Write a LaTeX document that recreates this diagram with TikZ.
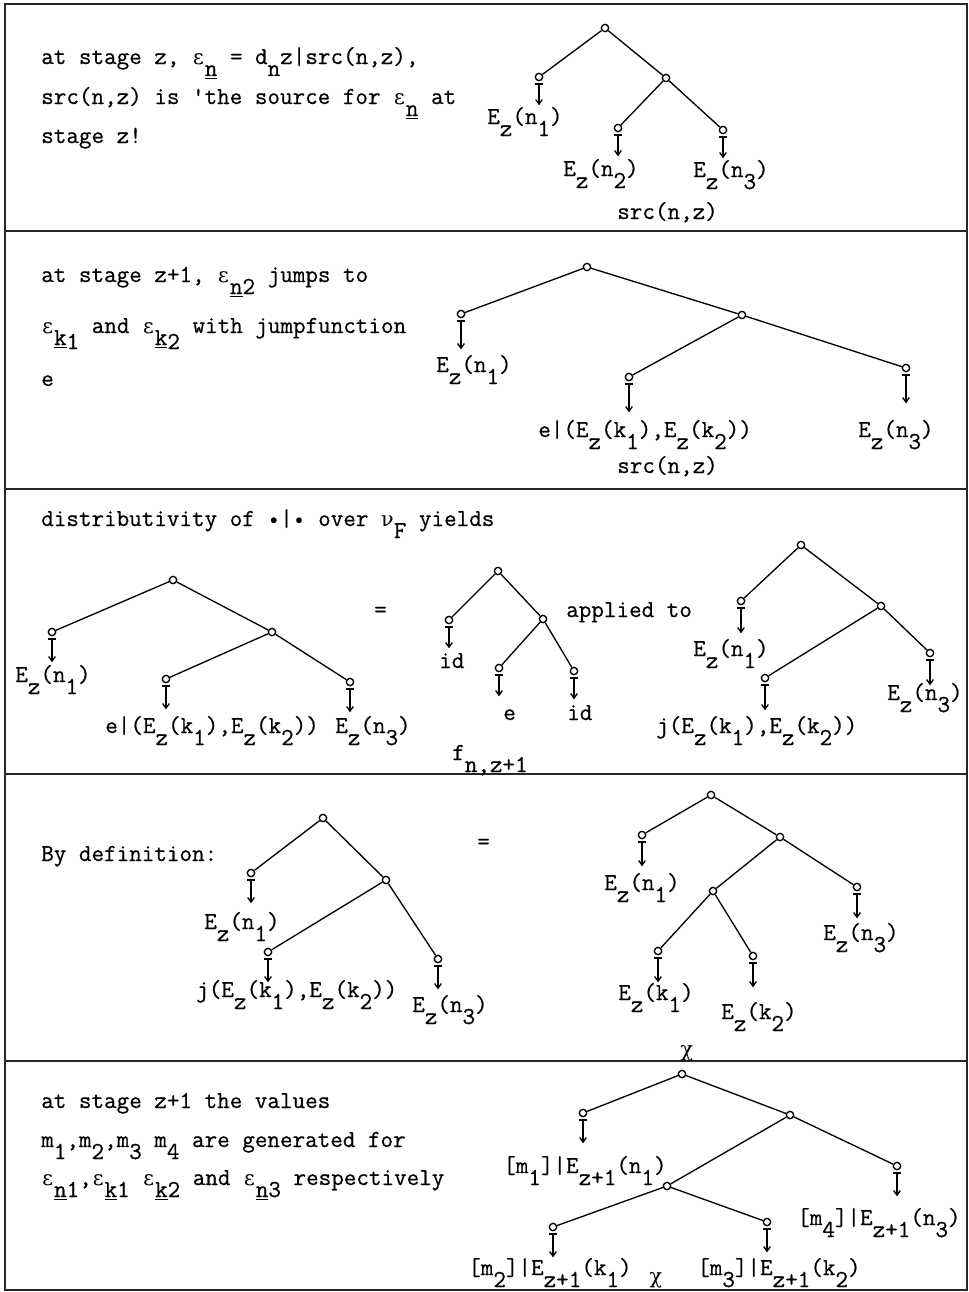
\documentclass[tikz,border=0pt]{standalone}
\usepackage{fontspec}
\setmonofont{Latin Modern Mono}[FakeBold=0.6]
\newfontfamily\grk{DejaVu Serif}[Scale=0.85]
\usetikzlibrary{arrows.meta}
\newcommand{\lw}[1]{\raisebox{-9pt}{#1}}
\newcommand{\ep}{\makebox[0.525em]{\grk ε}}
\newcommand{\ul}[1]{\underline{#1}}
\newcommand{\cel}[1]{\makebox[0.525em]{#1}}
\newcommand{\dotc}{\cel{\raisebox{1.2pt}{\scalebox{0.65}{$\bullet$}}}}
\begin{document}
\begin{tikzpicture}[x=0.75pt,y=-0.75pt,
  font=\fontsize{18.3}{22}\selectfont\ttfamily,
  vtx/.style={circle,draw,inner sep=0pt,minimum size=5.5pt,line width=1pt,fill=white},
  edge/.style={line width=1pt},
  leafarr/.style={line width=1pt,{Bar[width=5.5pt,line width=1pt]}-{Straight Barb[length=3.5pt,width=5pt]}},
  txt/.style={anchor=base west,inner sep=0pt},
  frame/.style={line width=1.5pt,draw=black!85}]
\useasboundingbox (0,0) rectangle (969,1292);
% frame
\draw[frame] (5,4) rectangle (967,1290);
\draw[frame] (5,231) -- (967,231);
\draw[frame] (5,489) -- (967,489);
\draw[frame] (5,774) -- (967,774);
\draw[frame] (5,1061) -- (967,1061);

% ---------- panel 1
\node[txt] (p1a) at (41,64) {at stage z, \ep\lw{\ul{n}} = d\lw{n}z|src(n,z),};
\node[txt] (p1b) at (41,104) {src(n,z) is 'the source for \ep\lw{\ul{n}} at};
\node[txt] (p1c) at (41,143) {stage z!};
\node[vtx] (a0) at (605,28) {};
\node[vtx] (a1) at (539,77) {};
\node[vtx] (a2) at (666,78) {};
\node[vtx] (a3) at (618,128) {};
\node[vtx] (a4) at (723,130) {};
\draw[edge] (a0)--(a1) (a0)--(a2) (a2)--(a3) (a2)--(a4);
\foreach \n in {a1,a3,a4} \draw[leafarr] ([yshift=-1.5pt]\n.south) -- ++(0,22);
\node[txt] (a1l) at (487,124) {E\lw{z}(n\lw{1})};
\node[txt] (a3l) at (563,176) {E\lw{z}(n\lw{2})};
\node[txt] (a4l) at (693,177) {E\lw{z}(n\lw{3})};
\node[txt] (a5l) at (617,219) {src(n,z)};

% ---------- panel 2
\node[txt] (p2a) at (41,282) {at stage z+1, \ep\lw{\ul{n}2} jumps to};
\node[txt] (p2b) at (41,333) {\ep\lw{\ul{k}\raisebox{-3pt}{1}} and \ep\lw{\ul{k}\raisebox{-3pt}{2}} with jumpfunction};
\node[txt] (p2c) at (41,386) {e};
\node[vtx] (b0) at (587,267) {};
\node[vtx] (b1) at (461,314) {};
\node[vtx] (b2) at (742,315) {};
\node[vtx] (b3) at (629,377) {};
\node[vtx] (b4) at (906,368) {};
\draw[edge] (b0)--(b1) (b0)--(b2) (b2)--(b3) (b2)--(b4);
\foreach \n in {b1,b3,b4} \draw[leafarr] ([yshift=-1.5pt]\n.south) -- ++(0,29);
\node[txt] (b1l) at (436,372) {E\lw{z}(n\lw{1})};
\node[txt] (b3l) at (538,437) {e|(E\lw{z}(k\lw{1}),E\lw{z}(k\lw{2}))};
\node[txt] (b4l) at (858,437) {E\lw{z}(n\lw{3})};
\node[txt] (b5l) at (617,473) {src(n,z)};

% ---------- panel 3
\node[txt] (p3a) at (41,526) {distributivity of \dotc|\dotc{} over \cel{\grk ν}\lw{F} yields};
\node[vtx] (c0) at (173,580) {};
\node[vtx] (c1) at (52,632) {};
\node[vtx] (c2) at (272,632) {};
\node[vtx] (c3) at (166,679) {};
\node[vtx] (c4) at (350,682) {};
\draw[edge] (c0)--(c1) (c0)--(c2) (c2)--(c3) (c2)--(c4);
\foreach \n in {c1,c3,c4} \draw[leafarr] ([yshift=-1.5pt]\n.south) -- ++(0,24);
\node[txt] (c1l) at (15,682) {E\lw{z}(n\lw{1})};
\node[txt] (c3l) at (105,733) {e|(E\lw{z}(k\lw{1}),E\lw{z}(k\lw{2}))};
\node[txt] (c4l) at (335,733) {E\lw{z}(n\lw{3})};
\node[txt] (eq1) at (374,617) {=};
\node[vtx] (d0) at (498,571) {};
\node[vtx] (d1) at (449,620) {};
\node[vtx] (d2) at (543,619) {};
\node[vtx] (d3) at (499,668) {};
\node[vtx] (d4) at (574,671) {};
\draw[edge] (d0)--(d1) (d0)--(d2) (d2)--(d3) (d2)--(d4);
\foreach \n in {d1,d3,d4} \draw[leafarr] ([yshift=-1.5pt]\n.south) -- ++(0,22);
\node[txt] (d1l) at (439,668) {id};
\node[txt] (d3l) at (503,720) {e};
\node[txt] (d4l) at (567,720) {id};
\node[txt] (app) at (566,617) {applied to};
\node[txt] (fnz) at (452,760) {f\lw{n,z+1}};
\node[vtx] (e0) at (801,545) {};
\node[vtx] (e1) at (741,601) {};
\node[vtx] (e2) at (881,606) {};
\node[vtx] (e3) at (765,678) {};
\node[vtx] (e4) at (930,653) {};
\draw[edge] (e0)--(e1) (e0)--(e2) (e2)--(e3) (e2)--(e4);
\foreach \n in {e1,e3,e4} \draw[leafarr] ([yshift=-1.5pt]\n.south) -- ++(0,26);
\node[txt] (e1l) at (693,656) {E\lw{z}(n\lw{1})};
\node[txt] (e3l) at (656,733) {j(E\lw{z}(k\lw{1}),E\lw{z}(k\lw{2}))};
\node[txt] (e4l) at (887,700) {E\lw{z}(n\lw{3})};

% ---------- panel 4
\node[txt] (p4a) at (41,861) {By definition:};
\node[vtx] (f0) at (323,818) {};
\node[vtx] (f1) at (251,873) {};
\node[vtx] (f2) at (386,880) {};
\node[vtx] (f3) at (268,952) {};
\node[vtx] (f4) at (438,959) {};
\draw[edge] (f0)--(f1) (f0)--(f2) (f2)--(f3) (f2)--(f4);
\foreach \n in {f1,f3,f4} \draw[leafarr] ([yshift=-1.5pt]\n.south) -- ++(0,24);
\node[txt] (f1l) at (204,929) {E\lw{z}(n\lw{1})};
\node[txt] (f3l) at (196,997) {j(E\lw{z}(k\lw{1}),E\lw{z}(k\lw{2}))};
\node[txt] (f4l) at (412,1012) {E\lw{z}(n\lw{3})};
\node[txt] (eq2) at (477,849) {=};
\node[vtx] (g0) at (711,795) {};
\node[vtx] (g1) at (642,835) {};
\node[vtx] (g2) at (780,837) {};
\node[vtx] (g3) at (713,891) {};
\node[vtx] (g4) at (658,951) {};
\node[vtx] (g5) at (753,956) {};
\node[vtx] (g6) at (857,887) {};
\draw[edge] (g0)--(g1) (g0)--(g2) (g2)--(g3) (g2)--(g6) (g3)--(g4) (g3)--(g5);
\foreach \n in {g1,g4,g5,g6} \draw[leafarr] ([yshift=-1.5pt]\n.south) -- ++(0,25);
\node[txt] (g1l) at (604,890) {E\lw{z}(n\lw{1})};
\node[txt] (g6l) at (823,940) {E\lw{z}(n\lw{3})};
\node[txt] (g4l) at (618,1000) {E\lw{z}(k\lw{1})};
\node[txt] (g5l) at (721,1019) {E\lw{z}(k\lw{2})};
\node[inner sep=0pt] (chi1) at (687,1053) {\grk χ};

% ---------- panel 5
\node[txt] (p5a) at (41,1108) {at stage z+1 the values};
\node[txt] (p5b) at (41,1147) {m\lw{1},m\lw{2},m\lw{3} m\lw{4} are generated for};
\node[txt] (p5c) at (41,1185) {\ep\lw{\ul{n}1},\ep\lw{\ul{k}1} \ep\lw{\ul{k}2} and \ep\lw{\ul{n}3} respectively};
\node[vtx] (h0) at (682,1074) {};
\node[vtx] (h1) at (583,1113) {};
\node[vtx] (h2) at (790,1115) {};
\node[vtx] (h3) at (667,1186) {};
\node[vtx] (h4) at (553,1227) {};
\node[vtx] (h5) at (767,1222) {};
\node[vtx] (h6) at (897,1166) {};
\draw[edge] (h0)--(h1) (h0)--(h2) (h2)--(h3) (h2)--(h6) (h3)--(h4) (h3)--(h5);
\foreach \n in {h1,h4,h5,h6} \draw[leafarr] ([yshift=-1.5pt]\n.south) -- ++(0,24);
\node[txt] (h1l) at (503,1173) {[m\lw{1}]|E\lw{z+1}(n\lw{1})};
\node[txt] (h6l) at (797,1225) {[m\lw{4}]|E\lw{z+1}(n\lw{3})};
\node[txt] (h4l) at (468,1275) {[m\lw{2}]|E\lw{z+1}(k\lw{1})};
\node[inner sep=0pt] (chi2) at (656,1280) {\grk χ};
\node[txt] (h5l) at (697,1275) {[m\lw{3}]|E\lw{z+1}(k\lw{2})};
\end{tikzpicture}
\end{document}
